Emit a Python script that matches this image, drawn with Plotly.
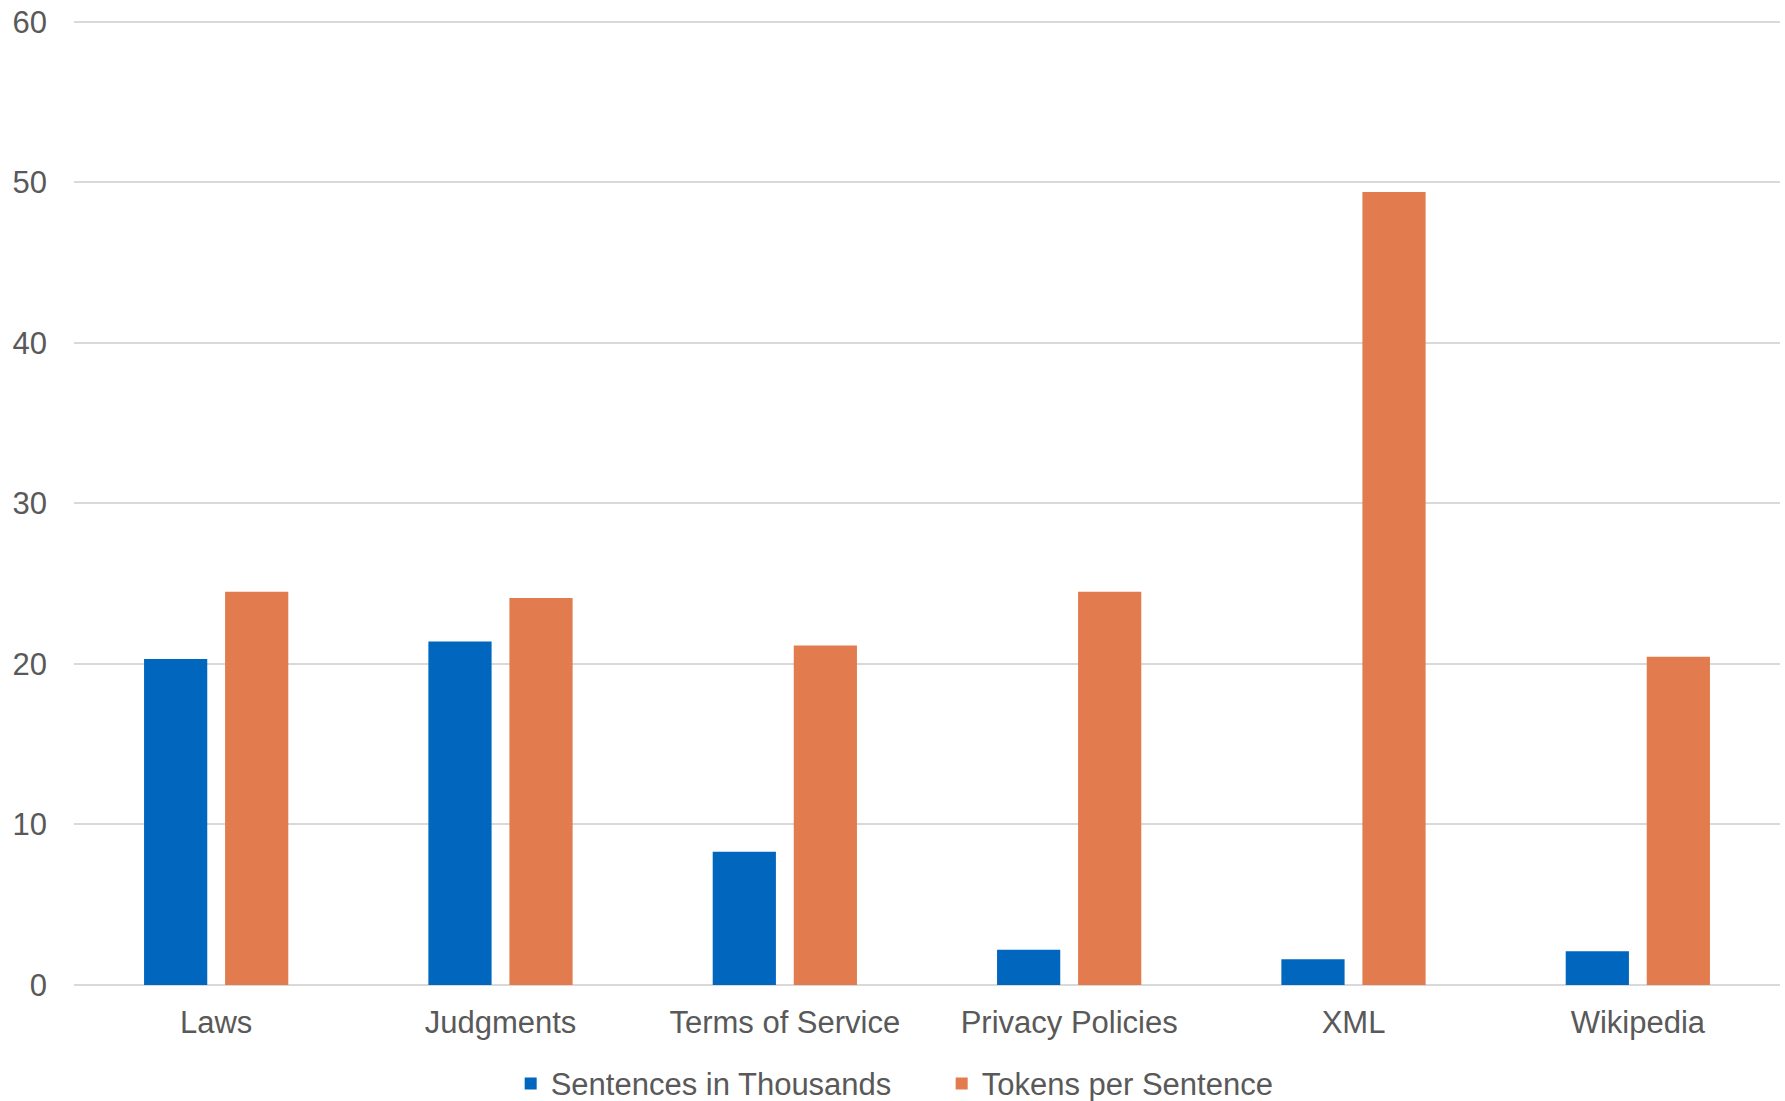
import plotly.graph_objects as go

categories = ["Laws", "Judgments", "Terms of Service", "Privacy Policies", "XML", "Wikipedia"]
sentences_thousands = [20.3, 21.4, 8.3, 2.2, 1.6, 2.1]
tokens_per_sentence = [24.5, 24.1, 21.15, 24.5, 49.4, 20.45]
y_ticks = [0, 10, 20, 30, 40, 50, 60]

FONT = "Liberation Sans, Arial, sans-serif"
TEXT = "#595959"
GRID = "#d9d9d9"
FS = 31

fig = go.Figure()
fig.add_trace(go.Bar(
    x=categories, y=sentences_thousands, name="Sentences in Thousands",
    marker=dict(color="#0066BE", line=dict(width=0)),
))
fig.add_trace(go.Bar(
    x=categories, y=tokens_per_sentence, name="Tokens per Sentence",
    marker=dict(color="#E27C4E", line=dict(width=0)),
))

fig.update_layout(
    width=1785, height=1101,
    margin=dict(l=74, r=5, t=17, b=116, autoexpand=False),
    paper_bgcolor="white", plot_bgcolor="white",
    barmode="group", bargap=0.43, bargroupgap=0.22,
    font=dict(family=FONT, size=FS, color=TEXT),
    showlegend=True,
    legend=dict(
        orientation="h", x=0.5086, xanchor="center", y=-0.102, yanchor="middle",
        font=dict(family=FONT, size=FS, color=TEXT),
        itemwidth=30, traceorder="normal",
        entrywidth=386, entrywidthmode="pixels",
    ),
    xaxis=dict(
        showgrid=False, showline=False, zeroline=False, ticks="",
        tickfont=dict(family=FONT, size=FS, color=TEXT),
        ticklabelstandoff=16,
    ),
    yaxis=dict(
        range=[0, 60.3], tickvals=y_ticks, ticktext=[str(v) for v in y_ticks],
        showgrid=True, gridcolor=GRID, gridwidth=1.5,
        zeroline=True, zerolinecolor=GRID, zerolinewidth=1.5,
        showline=False, ticks="",
        tickfont=dict(family=FONT, size=FS, color=TEXT),
        ticklabelstandoff=26,
    ),
)

fig.write_html("out.html")
